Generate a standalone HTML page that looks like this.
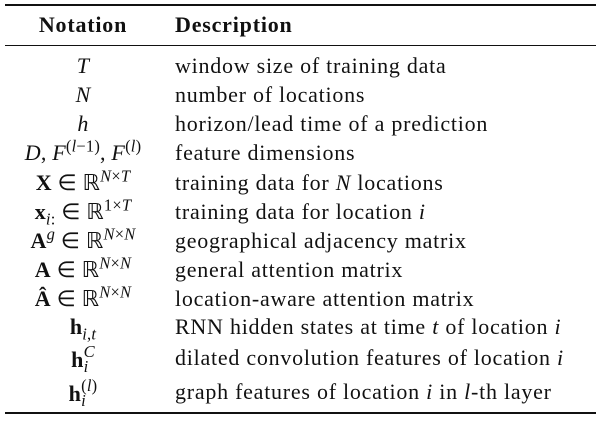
<!DOCTYPE html>
<html><head><meta charset="utf-8"><style>
body{margin:0;background:#fff;width:601px;height:424px;position:relative;overflow:hidden;font-family:"Liberation Serif",serif;color:#111;font-size:22px;letter-spacing:0.75px}
.rule{position:absolute;left:5px;width:591px;background:#111}
.n{position:absolute;left:0;width:166px;text-align:center;white-space:nowrap;letter-spacing:0.2px}
.d{position:absolute;left:175px;white-space:nowrap}
i{font-style:italic}
b{font-weight:bold}
sup,sub{font-size:75%;line-height:0}
.th{font-weight:bold;font-size:22px;letter-spacing:0.8px}
</style></head><body>
<div class="rule" style="top:4px;height:2px"></div>
<div class="n th" style="top:12px">Notation</div>
<div class="d th" style="top:12px">Description</div>
<div class="rule" style="top:45px;height:1.3px"></div>

<div class="n" style="top:53px"><i>T</i></div>
<div class="d" style="top:53px">window size of training data</div>
<div class="n" style="top:82px"><i>N</i></div>
<div class="d" style="top:82px">number of locations</div>
<div class="n" style="top:111px"><i>h</i></div>
<div class="d" style="top:111px">horizon/lead time of a prediction</div>
<div class="n" style="top:140px"><i>D</i>, <i>F</i><sup>(<i>l</i>−1)</sup>, <i>F</i><sup>(<i>l</i>)</sup></div>
<div class="d" style="top:140px">feature dimensions</div>
<div class="n" style="top:170px"><b>X</b> ∈ ℝ<sup><i>N</i>×<i>T</i></sup></div>
<div class="d" style="top:170px">training data for <i>N</i> locations</div>
<div class="n" style="top:199px"><b>x</b><sub><i>i</i>:</sub> ∈ ℝ<sup>1×<i>T</i></sup></div>
<div class="d" style="top:199px">training data for location <i>i</i></div>
<div class="n" style="top:228px"><b>A</b><sup><i>g</i></sup> ∈ ℝ<sup><i>N</i>×<i>N</i></sup></div>
<div class="d" style="top:228px">geographical adjacency matrix</div>
<div class="n" style="top:257px"><b>A</b> ∈ ℝ<sup><i>N</i>×<i>N</i></sup></div>
<div class="d" style="top:257px">general attention matrix</div>
<div class="n" style="top:286px"><b>Â</b> ∈ ℝ<sup><i>N</i>×<i>N</i></sup></div>
<div class="d" style="top:286px">location-aware attention matrix</div>
<div class="n" style="top:314px"><b>h</b><sub><i>i</i>,<i>t</i></sub></div>
<div class="d" style="top:314px">RNN hidden states at time <i>t</i> of location <i>i</i></div>
<div class="n" style="top:345px"><b>h</b><span style="display:inline-block;vertical-align:-5px;font-size:75%;line-height:0.9;text-align:left"><i>C</i><br><i>i</i></span></div>
<div class="d" style="top:345px">dilated convolution features of location <i>i</i></div>
<div class="n" style="top:379px"><b>h</b><span style="display:inline-block;vertical-align:-5px;font-size:75%;line-height:0.9;text-align:left">(<i>l</i>)<br><i>i</i></span></div>
<div class="d" style="top:379px">graph features of location <i>i</i> in <i>l</i>-th layer</div>
<div class="rule" style="top:412px;height:2px"></div>
</body></html>
